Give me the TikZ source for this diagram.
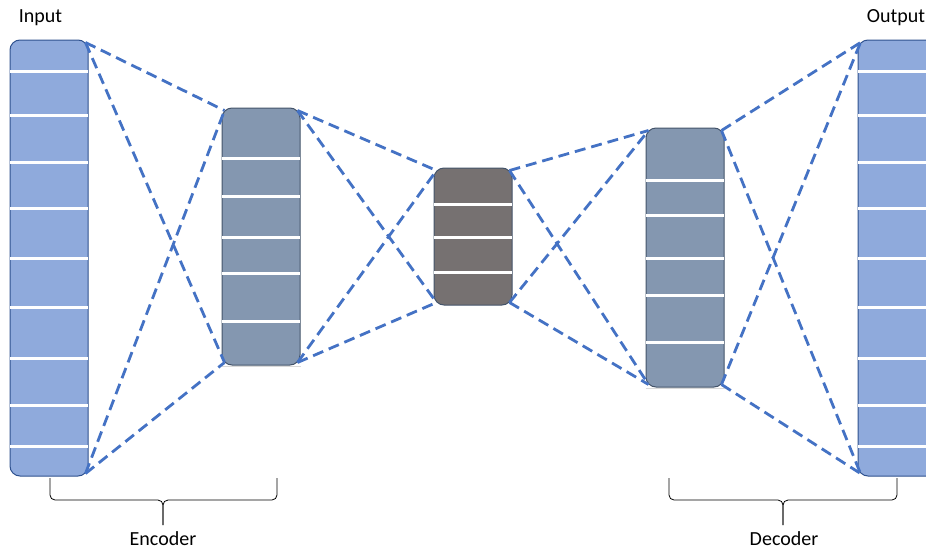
\documentclass[tikz,border=0pt]{standalone}
\usepackage{fontspec}
\setmainfont{Carlito}
\usetikzlibrary{calc}

\definecolor{outerblue}{HTML}{8FAADC}
\definecolor{outerline}{HTML}{2F528F}
\definecolor{hiddengray}{HTML}{8497B0}
\definecolor{hiddenline}{HTML}{44546A}
\definecolor{codegray}{HTML}{767171}
\definecolor{linkblue}{HTML}{4472C4}

\begin{document}
\begin{tikzpicture}[x=1pt,y=-1pt,
 layer node/.style={draw,rounded corners=10pt,minimum width=78pt,inner sep=0pt,line width=1pt},
 outer node/.style={layer node,fill=outerblue,draw=outerline},
 hidden node/.style={layer node,fill=hiddengray,draw=hiddenline},
 code node/.style={layer node,fill=codegray,draw=hiddenline},
 sep/.style={white,line width=3pt},
 link/.style={draw=linkblue,line width=2.8pt,dash pattern=on 11pt off 6pt},
 caption text/.style={font=\fontsize{20}{24}\selectfont,inner sep=0pt},
 brace line/.style={line width=0.8pt,rounded corners=5pt}]

  \useasboundingbox (0,0) rectangle (926,552);
  \clip (0,0) rectangle (926,552);

  \node[outer node,minimum height=436pt] (in) at (49,258) {};
  \node[hidden node,minimum height=257pt] (enc) at (261,236.5) {};
  \node[code node,minimum height=137pt] (mid) at (473,236.5) {};
  \node[hidden node,minimum height=259pt] (dec) at (685,257.5) {};
  \node[outer node,minimum height=436pt] (out) at (897,258) {};

  % white bands
  \foreach \b/\list in {in/{71,115,162,208,258,307,358,405,446},
                        enc/{158,196,237,273,321},
                        mid/{204,237,272},
                        dec/{180,215,258,295,342},
                        out/{71,115,162,208,258,307,358,405,446}} {
    \foreach \y in \list
      \draw[sep] ([xshift=0.5pt]\b.west |- 0,\y) -- ([xshift=-0.5pt]\b.east |- 0,\y);
  }
  \draw[gray!30,line width=0.6pt] ([yshift=-1pt]enc.south west) -- ([yshift=-1pt]enc.south east);
  \draw[gray!30,line width=0.6pt] ([yshift=-1pt]dec.south west) -- ([yshift=-1pt]dec.south east);

  % corner points of every layer
  \foreach \b in {in,enc,mid,dec,out} {
    \coordinate (\b-tl) at ($(\b.north west)+(3,3)$);
    \coordinate (\b-tr) at ($(\b.north east)+(-3,3)$);
    \coordinate (\b-bl) at ($(\b.south west)+(3,-3)$);
    \coordinate (\b-br) at ($(\b.south east)+(-3,-3)$);
  }

  \foreach \s/\t in {in/enc, enc/mid, mid/dec, dec/out} {
   \path[link] (\s-tr) edge (\t-tl) edge (\t-bl)
               (\s-br) edge (\t-tl) edge (\t-bl);}

  \node[caption text,anchor=base] (input) at (40.5,22) {Input};
  \node[caption text,anchor=base] (output) at (896,22) {Output};
  \node[caption text,anchor=base] (encoder) at (163,545) {Encoder};
  \node[caption text,anchor=base] (decoder) at (784,545) {Decoder};

  % braces
  \coordinate (enc-tip) at (163,525);
  \coordinate (dec-tip) at (783,525);
  \draw[brace line] (50,478) -- (50,500) -- (enc-tip |- 0,500) -- (enc-tip);
  \draw[brace line] (277,478) -- (277,500) -- (enc-tip |- 0,500) -- (enc-tip);
  \draw[brace line] (669,478) -- (669,500) -- (dec-tip |- 0,500) -- (dec-tip);
  \draw[brace line] (897,478) -- (897,500) -- (dec-tip |- 0,500) -- (dec-tip);
\end{tikzpicture}
\end{document}
